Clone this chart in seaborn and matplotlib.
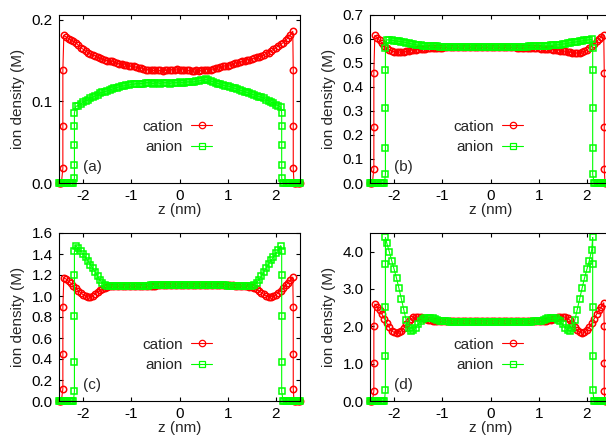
import numpy as np
import pandas as pd
import matplotlib
matplotlib.use("Agg")
import matplotlib.pyplot as plt
from matplotlib.ticker import FormatStrFormatter, FixedLocator
from matplotlib.lines import Line2D
import seaborn as sns

sns.set_theme(style="ticks")
plt.rcParams["font.family"] = ["Liberation Sans", "DejaVu Sans"]
plt.rcParams["axes.unicode_minus"] = False

# ---------------- data (ion density in M, z in nm) ----------------
STEP = 0.05
CAT_START = -2.40          # first interior cation point
ANI_START = -2.15          # first interior anion point
CAT_WALL = (-2.42, 2.36)   # positions of the steep cation rises
ANI_WALL = (-2.18, 2.12)   # positions of the steep anion rises

panel_labels = ["(a)", "(b)", "(c)", "(d)"]
series_names = ["cation", "anion"]
x_ticks = [-2, -1, 0, 1, 2]

# panel (a)
cation_a = [0.181,0.179,0.177,0.175,0.174,0.172,0.169,0.166,0.164,0.162,
            0.160,0.158,0.157,0.156,0.154,0.153,0.152,0.151,0.150,0.149,
            0.149,0.148,0.147,0.146,0.146,0.145,0.145,0.144,0.143,0.143,
            0.142,0.141,0.141,0.140,0.139,0.139,0.138,0.138,0.138,0.138,
            0.138,0.137,0.138,0.138,0.139,0.139,0.139,0.140,0.139,0.139,
            0.138,0.138,0.138,0.137,0.137,0.138,0.137,0.138,0.138,0.139,
            0.139,0.139,0.140,0.141,0.141,0.142,0.143,0.144,0.144,0.145,
            0.146,0.147,0.147,0.148,0.149,0.150,0.151,0.151,0.152,0.153,
            0.154,0.155,0.156,0.157,0.159,0.160,0.162,0.164,0.166,0.168,
            0.170,0.172,0.175,0.178,0.182,0.186]
anion_a = [0.094,0.095,0.097,0.099,0.101,0.102,0.104,0.105,0.107,0.108,
           0.110,0.111,0.112,0.113,0.114,0.115,0.116,0.117,0.118,0.119,
           0.119,0.120,0.120,0.121,0.121,0.122,0.122,0.122,0.122,0.123,
           0.123,0.123,0.122,0.123,0.123,0.122,0.123,0.123,0.123,0.122,
           0.123,0.123,0.123,0.124,0.123,0.123,0.124,0.124,0.124,0.124,
           0.125,0.125,0.126,0.126,0.127,0.126,0.125,0.124,0.123,0.122,
           0.121,0.120,0.119,0.119,0.118,0.117,0.116,0.115,0.114,0.113,
           0.112,0.111,0.110,0.109,0.108,0.107,0.106,0.105,0.104,0.102,
           0.101,0.099,0.098,0.096,0.095,0.093]
cation_wall_a = [0.018, 0.070, 0.138]
anion_wall_a = [0.006, 0.022, 0.047, 0.070, 0.086]

# panel (b)
cation_b = [0.615,0.605,0.594,0.583,0.572,0.562,0.555,0.550,0.547,0.545,
            0.545,0.546,0.547,0.549,0.551,0.553,0.555,0.556,0.557,0.558,
            0.559,0.560,0.561,0.561,0.562,0.563,0.563,0.564,0.564,0.565,
            0.565,0.566,0.566,0.566,0.567,0.566,0.567,0.567,0.566,0.567,
            0.567,0.566,0.567,0.566,0.566,0.567,0.566,0.566,0.566,0.566,
            0.566,0.565,0.566,0.566,0.565,0.566,0.565,0.565,0.565,0.564,
            0.564,0.564,0.563,0.563,0.563,0.562,0.562,0.561,0.561,0.560,
            0.560,0.559,0.558,0.557,0.556,0.555,0.554,0.552,0.551,0.549,
            0.547,0.545,0.543,0.542,0.542,0.543,0.545,0.549,0.555,0.562,
            0.571,0.580,0.590,0.600,0.609,0.617]
anion_b = [0.597,0.596,0.595,0.593,0.592,0.590,0.589,0.587,0.585,0.583,
           0.580,0.578,0.576,0.574,0.573,0.572,0.571,0.570,0.570,0.569,
           0.569,0.569,0.568,0.568,0.568,0.568,0.568,0.568,0.568,0.568,
           0.568,0.568,0.567,0.568,0.568,0.568,0.567,0.568,0.568,0.568,
           0.568,0.568,0.568,0.568,0.567,0.568,0.568,0.568,0.568,0.568,
           0.568,0.568,0.567,0.568,0.568,0.568,0.568,0.568,0.568,0.569,
           0.569,0.569,0.569,0.570,0.570,0.570,0.571,0.572,0.573,0.574,
           0.575,0.576,0.577,0.579,0.580,0.582,0.584,0.586,0.587,0.589,
           0.590,0.592,0.594,0.595,0.597,0.599]
cation_wall_b = [0.060, 0.235, 0.460]
anion_wall_b = [0.036, 0.147, 0.311, 0.471, 0.561]

# panel (c)
cation_c = [1.175,1.160,1.140,1.120,1.098,1.075,1.050,1.030,1.012,1.000,
            0.992,0.993,1.002,1.018,1.038,1.055,1.070,1.080,1.087,1.091,
            1.093,1.094,1.095,1.095,1.096,1.096,1.096,1.097,1.097,1.097,
            1.097,1.098,1.098,1.098,1.098,1.099,1.099,1.099,1.099,1.100,
            1.100,1.100,1.100,1.101,1.101,1.101,1.101,1.101,1.101,1.102,
            1.102,1.102,1.102,1.102,1.103,1.103,1.103,1.103,1.103,1.103,
            1.103,1.103,1.103,1.103,1.102,1.102,1.102,1.102,1.101,1.101,
            1.100,1.099,1.098,1.097,1.096,1.094,1.092,1.089,1.084,1.076,
            1.065,1.050,1.032,1.015,1.000,0.992,0.993,1.000,1.012,1.030,
            1.050,1.075,1.100,1.125,1.150,1.180]
anion_c = [1.480,1.455,1.430,1.400,1.370,1.335,1.300,1.265,1.230,1.190,
           1.150,1.120,1.100,1.095,1.095,1.096,1.096,1.097,1.097,1.097,
           1.097,1.098,1.098,1.098,1.098,1.098,1.099,1.099,1.099,1.099,
           1.099,1.100,1.100,1.100,1.100,1.100,1.100,1.101,1.101,1.101,
           1.101,1.101,1.101,1.101,1.102,1.102,1.102,1.102,1.102,1.102,
           1.102,1.102,1.102,1.102,1.102,1.102,1.101,1.101,1.101,1.101,
           1.100,1.100,1.100,1.099,1.099,1.098,1.098,1.097,1.097,1.096,
           1.096,1.095,1.095,1.096,1.105,1.125,1.155,1.190,1.230,1.268,
           1.305,1.340,1.372,1.405,1.440,1.480]
cation_wall_c = [0.117, 0.451, 0.892]
anion_wall_c = [0.092, 0.371, 0.806, 1.197, 1.425]

# panel (d)
cation_d = [2.60,2.52,2.43,2.32,2.20,2.08,1.97,1.88,1.84,1.82,
            1.84,1.88,1.95,2.05,2.13,2.20,2.24,2.25,2.25,2.24,
            2.22,2.20,2.18,2.16,2.15,2.14,2.14,2.13,2.13,2.13,
            2.13,2.13,2.13,2.13,2.14,2.14,2.14,2.14,2.14,2.14,
            2.14,2.14,2.14,2.14,2.14,2.14,2.14,2.14,2.14,2.14,
            2.14,2.14,2.14,2.14,2.14,2.14,2.14,2.14,2.14,2.14,
            2.14,2.14,2.13,2.13,2.13,2.13,2.13,2.13,2.13,2.14,
            2.14,2.15,2.16,2.18,2.20,2.22,2.24,2.25,2.25,2.25,
            2.22,2.16,2.07,1.97,1.89,1.84,1.82,1.84,1.90,1.98,
            2.08,2.20,2.32,2.43,2.53,2.63]
anion_d = [4.22,4.00,3.76,3.53,3.29,3.02,2.74,2.45,2.17,1.95,
           1.87,1.89,1.96,2.06,2.14,2.19,2.22,2.23,2.22,2.21,
           2.19,2.17,2.15,2.14,2.13,2.13,2.12,2.12,2.12,2.12,
           2.12,2.12,2.12,2.12,2.12,2.12,2.12,2.12,2.12,2.12,
           2.12,2.12,2.12,2.12,2.12,2.12,2.12,2.12,2.12,2.12,
           2.12,2.12,2.12,2.12,2.12,2.12,2.12,2.12,2.12,2.12,
           2.12,2.13,2.13,2.14,2.15,2.17,2.19,2.21,2.22,2.22,
           2.21,2.18,2.13,2.05,1.96,1.89,1.87,1.95,2.17,2.45,
           2.74,3.02,3.29,3.53,3.76,4.05]
cation_wall_d = [0.27, 1.02, 2.00]
anion_wall_d = [0.29, 1.20, 2.51, 3.66, 4.38]

y_limits = [(0.0, 0.206), (0.0, 0.7), (0.0, 1.6), (0.0, 4.5)]
y_ticks = [[0.0, 0.1, 0.2],
           [0.0, 0.1, 0.2, 0.3, 0.4, 0.5, 0.6, 0.7],
           [0.0, 0.2, 0.4, 0.6, 0.8, 1.0, 1.2, 1.4, 1.6],
           [0.0, 1.0, 2.0, 3.0, 4.0]]

cations = [cation_a, cation_b, cation_c, cation_d]
anions = [anion_a, anion_b, anion_c, anion_d]
cation_walls = [cation_wall_a, cation_wall_b, cation_wall_c, cation_wall_d]
anion_walls = [anion_wall_a, anion_wall_b, anion_wall_c, anion_wall_d]


def profile(start, interior, walls, wall_pos):
    """Assemble a density profile: zeros, wall rise, interior, wall fall, zeros."""
    zl, zr = wall_pos
    z_zero_left = np.arange(-2.50, zl - 0.01, 0.025)
    z_zero_right = np.arange(2.50, zr + 0.01, -0.025)[::-1]
    z_in = start + STEP * np.arange(len(interior))
    z = np.concatenate([z_zero_left, [zl] * len(walls), z_in,
                        [zr] * len(walls), z_zero_right])
    y = np.concatenate([np.zeros(len(z_zero_left)), walls, interior,
                        walls[::-1], np.zeros(len(z_zero_right))])
    return pd.DataFrame({"z": z, "density": y})


RED = "#ff0000"
GREEN = "#00ff00"
FS = 11
MS = 4.6
MEW = 1.1

fig = plt.figure(figsize=(6.06, 4.36), dpi=100)
FW, FH = 606.0, 436.0
AW, AH = 241.0, 168.0
corners = [(59, 15), (370, 15), (59, 233), (370, 233)]

for i, (lx, ty) in enumerate(corners):
    ax = fig.add_axes([lx / FW, 1 - (ty + AH) / FH, AW / FW, AH / FH])
    dc = profile(CAT_START, cations[i], cation_walls[i], CAT_WALL)
    da = profile(ANI_START, anions[i], anion_walls[i], ANI_WALL)
    style = dict(sort=False, estimator=None, lw=0.8, markersize=MS,
                 markerfacecolor="none", markeredgewidth=MEW, clip_on=False,
                 legend=False)
    sns.lineplot(data=dc, x="z", y="density", ax=ax, color=RED, marker="o",
                 markeredgecolor=RED, **style)
    sns.lineplot(data=da, x="z", y="density", ax=ax, color=GREEN, marker="s",
                 markeredgecolor=GREEN, **style)

    ax.set_xlim(-2.5, 2.5)
    ax.set_ylim(*y_limits[i])
    ax.xaxis.set_major_locator(FixedLocator(x_ticks))
    ax.yaxis.set_major_locator(FixedLocator(y_ticks[i]))
    ax.yaxis.set_major_formatter(FormatStrFormatter("%.1f"))
    ax.xaxis.set_major_formatter(FormatStrFormatter("%d"))
    ax.tick_params(direction="in", length=3, width=0.8, top=True, right=True,
                   labelsize=FS, pad=4.5, color="black", labelcolor="black")
    for s in ax.spines.values():
        s.set_visible(True)
        s.set_color("black")
        s.set_linewidth(0.8)

    ax.set_xlabel("z (nm)", fontsize=FS, va="center")
    ax.set_ylabel("ion density (M)", fontsize=FS, va="center")
    ax.xaxis.set_label_coords(0.5, -(210 - 183) / AH)
    ax.yaxis.set_label_coords(-(lx - (18 if lx < 300 else 329)) / AW, 0.5)

    ax.text(0.10, 0.095, panel_labels[i], transform=ax.transAxes,
            fontsize=FS, ha="left", va="center")

    handles = [Line2D([], [], color=RED, lw=0.8, marker="o", markersize=MS,
                      markerfacecolor="none", markeredgecolor=RED,
                      markeredgewidth=0.9),
               Line2D([], [], color=GREEN, lw=0.8, marker="s", markersize=MS,
                      markerfacecolor="none", markeredgecolor=GREEN,
                      markeredgewidth=0.9)]
    ax.legend(handles, series_names, loc="center", bbox_to_anchor=(0.49, 0.274),
              frameon=False, markerfirst=False, handlelength=1.4,
              handletextpad=0.55, labelspacing=0.45, borderpad=0, fontsize=FS)

fig.savefig("out.png", dpi=100)
